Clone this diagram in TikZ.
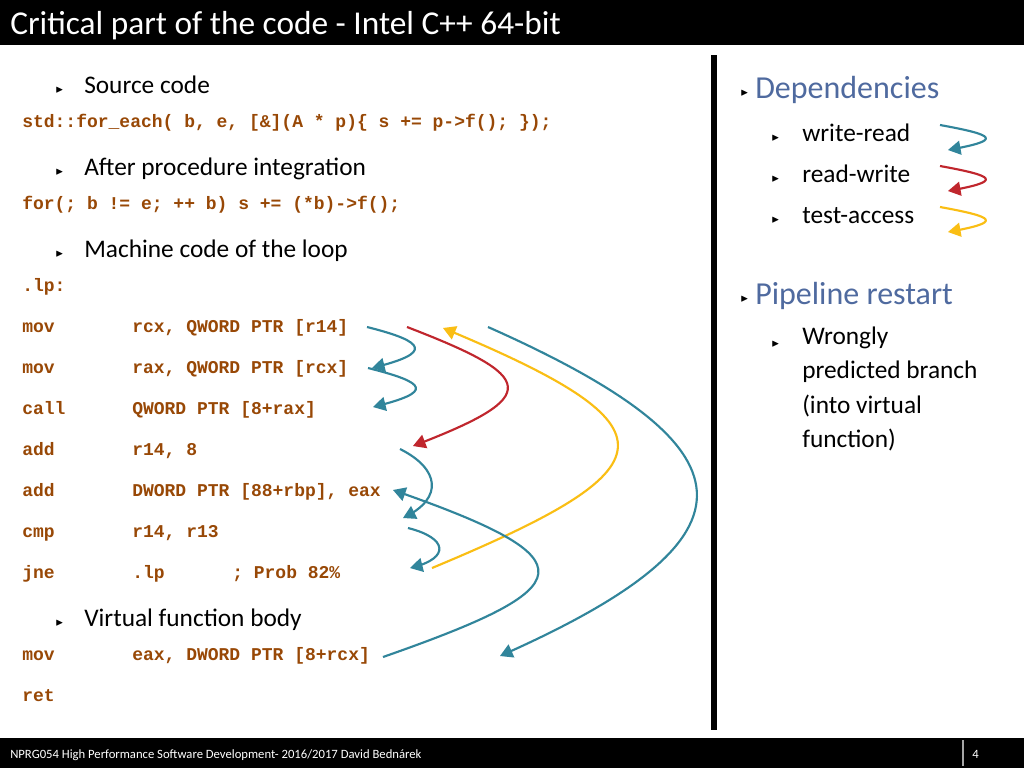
\documentclass[tikz,border=0pt]{standalone}
\usepackage{fontspec,amssymb}
\setmainfont{Carlito}
\setmonofont{Liberation Mono}
\usetikzlibrary{arrows}
\definecolor{codebrown}{RGB}{152,72,6}
\definecolor{headblue}{RGB}{79,106,159}
\definecolor{wrteal}{RGB}{49,133,155}
\definecolor{rwred}{RGB}{192,38,45}
\definecolor{tayellow}{RGB}{250,190,20}
\newcommand{\bul}{{\scriptsize$\blacktriangleright$}}

\begin{document}
\begin{tikzpicture}[x=0.75pt,y=-0.75pt]

\tikzstyle{bar} = [fill=black,draw=none]
\tikzstyle{txt} = [anchor=base west,inner sep=0,font=\fontsize{19}{22}\selectfont]
\tikzstyle{code} = [anchor=base west,inner sep=0,text=codebrown,
font=\ttfamily\bfseries\fontsize{13.5}{15}\selectfont]
\tikzstyle{head} = [anchor=base west,inner sep=0,text=headblue,font=\fontsize{24}{28}\selectfont]
\tikzstyle{wr} = [-triangle 60,line width=1.6,draw=wrteal]
\tikzstyle{rw} = [-triangle 60,line width=1.6,draw=rwred]
\tikzstyle{ta} = [-triangle 60,line width=1.6,draw=tayellow]

\useasboundingbox (0,0) rectangle (1024,768);
\fill[white] (0,0) rectangle (1024,768);

% title and footer
\fill[bar] (0,0) rectangle (1024,45);
\node[anchor=base west,inner sep=0,text=white,font=\fontsize{25}{30}\selectfont] (title) at (10,34) {Critical part of the code - Intel C++ 64-bit};
\fill[bar] (0,738) rectangle (1024,768);
\node[anchor=base west,inner sep=0,text=white,font=\fontsize{9.5}{11}\selectfont] (foot) at (10,758) {NPRG054 High Performance Software Development- 2016/2017 David Bednárek};
\draw[gray!70,line width=1] (963,740) -- (963,766);
\node[anchor=base west,inner sep=0,text=white,font=\fontsize{9.5}{11}\selectfont] (page) at (972,758) {4};
\fill[bar] (711,55) rectangle (717,730);

% left column
\node[txt] (b1) at (55,92) {\bul};
\node[txt] (src) at (84,93) {Source code};
\node[code] (c1) at (22,127) {std::for\_each( b, e, [\&](A * p)\{ s += p->f(); \});};
\node[txt] (b2) at (55,174) {\bul};
\node[txt] (proc) at (84,175) {After procedure integration};
\node[code] (c2) at (22,209) {for(; b != e; ++ b) s += (*b)->f();};
\node[txt] (b3) at (55,256) {\bul};
\node[txt] (mach) at (84,257) {Machine code of the loop};
\node[code] (lp) at (22,291) {.lp:};

\node[code] (o1) at (22,332) {mov};   \node[code] (a1) at (132,332) {rcx, QWORD PTR [r14]};
\node[code] (o2) at (22,373) {mov};   \node[code] (a2) at (132,373) {rax, QWORD PTR [rcx]};
\node[code] (o3) at (22,414) {call};  \node[code] (a3) at (132,414) {QWORD PTR [8+rax]};
\node[code] (o4) at (22,455) {add};   \node[code] (a4) at (132,455) {r14, 8};
\node[code] (o5) at (22,496) {add};   \node[code] (a5) at (132,496) {DWORD PTR [88+rbp], eax};
\node[code] (o6) at (22,537) {cmp};   \node[code] (a6) at (132,537) {r14, r13};
\node[code] (o7) at (22,578) {jne};   \node[code] (a7) at (132,578) {.lp};
\node[code] (p7) at (232,578) {; Prob 82\%};

\node[txt] (b4) at (55,625) {\bul};
\node[txt] (virt) at (84,626) {Virtual function body};
\node[code] (o8) at (22,660) {mov};   \node[code] (a8) at (132,660) {eax, DWORD PTR [8+rcx]};
\node[code] (o9) at (22,701) {ret};

% right column
\node[txt] (b5) at (740,95) {\bul};
\node[head] (dep) at (755,98) {Dependencies};
\node[txt] (b6) at (771,140) {\bul};
\node[txt] (wrt) at (802,141) {write-read};
\node[txt] (b7) at (771,181) {\bul};
\node[txt] (rwt) at (802,182) {read-write};
\node[txt] (b8) at (771,222) {\bul};
\node[txt] (tat) at (802,223) {test-access};
\node[txt] (b9) at (740,301) {\bul};
\node[head] (pipe) at (755,304) {Pipeline restart};
\node[txt] (b10) at (771,346) {\bul};
\node[txt,align=left,anchor=north west,font=\fontsize{19}{25.6}\selectfont] (wrong) at (802,327) {Wrongly\\predicted branch\\(into virtual\\function)};

% legend arrows
\coordinate (l1s) at (940,125); \coordinate (l1e) at (948,150);
\coordinate (l2s) at (940,166); \coordinate (l2e) at (948,191);
\coordinate (l3s) at (940,207); \coordinate (l3e) at (948,232);
\draw[wr] (l1s) .. controls +(55,10) and +(55,-10) .. (l1e);
\draw[rw] (l2s) .. controls +(55,10) and +(55,-10) .. (l2e);
\draw[ta] (l3s) .. controls +(55,10) and +(55,-10) .. (l3e);

% dependency arrows
\coordinate (s1) at (367,327); \coordinate (e1) at (372,368);
\coordinate (s2) at (368,368); \coordinate (e2) at (373,407);
\coordinate (s3) at (407,327); \coordinate (e3) at (413,446);
\coordinate (s4) at (432,568); \coordinate (e4) at (443,328);
\coordinate (s5) at (488,327); \coordinate (e5) at (500,656);
\coordinate (s6) at (400,449); \coordinate (e6) at (403,518);
\coordinate (s7) at (408,528); \coordinate (e7) at (410,568);
\coordinate (s8) at (383,657); \coordinate (e8) at (393,490);
\draw[wr] (s1) .. controls +(60,15) and +(60,-15) .. (e1);
\draw[wr] (s2) .. controls +(60,15) and +(60,-15) .. (e2);
\draw[rw] (s3) .. controls +(130,50) and +(130,-50) .. (e3);
\draw[ta] (s4) .. controls +(240,-100) and +(240,100) .. (e4);
\draw[wr] (s5) .. controls +(270,120) and +(270,-120) .. (e5);
\draw[wr] (s6) .. controls +(40,20) and +(40,-20) .. (e6);
\draw[wr] (s7) .. controls +(40,10) and +(40,-10) .. (e7);
\draw[wr] (s8) .. controls +(200,-70) and +(200,70) .. (e8);

\end{tikzpicture}
\end{document}
